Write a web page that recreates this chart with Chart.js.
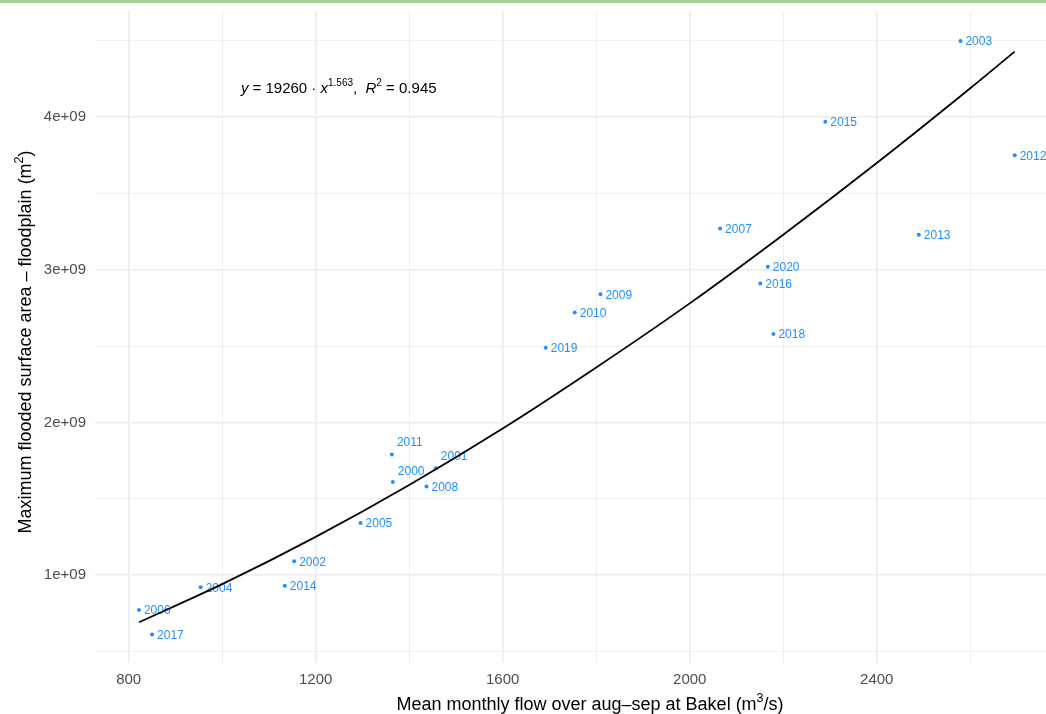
<!DOCTYPE html>
<html>
<head>
<meta charset="utf-8">
<script src="https://cdn.jsdelivr.net/npm/chart.js@4.4.1/dist/chart.umd.min.js"></script>
<style>
  html, body { margin: 0; padding: 0; background: #fff; }
  #wrap { position: relative; width: 1046px; height: 714px; }
  #topline { position: absolute; left: 0; top: 0; width: 1046px; height: 3px; background: #a3d196; }
  canvas { display: block; }
</style>
</head>
<body>
<div id="wrap">
  <div id="topline"></div>
  <canvas id="floodChart" width="1046" height="714"></canvas>
</div>
<script>
// observed years, flow at Bakel (m3/s) and max flooded floodplain area (m2)
const years = [2000, 2001, 2002, 2003, 2004, 2005, 2006, 2007, 2008, 2009, 2010,
               2011, 2012, 2013, 2014, 2015, 2016, 2017, 2018, 2019, 2020];
const flow = [1365, 1457, 1154, 2579, 954, 1296, 822, 2065, 1437, 1809, 1754,
              1363, 2695, 2490, 1134, 2290, 2151, 850, 2179, 1692, 2167];
const area = [1.61e9, 1.70e9, 1.09e9, 4.50e9, 0.92e9, 1.34e9, 0.77e9, 3.27e9, 1.58e9, 2.84e9, 2.72e9,
              1.79e9, 3.75e9, 3.23e9, 0.93e9, 3.97e9, 2.91e9, 0.61e9, 2.58e9, 2.49e9, 3.02e9];

// power-law fit line
const fitFlow = [822, 1000, 1200, 1400, 1600, 1800, 2000, 2200, 2400, 2600, 2695];
const fitArea = [0.69e9, 0.94e9, 1.25e9, 1.59e9, 1.96e9, 2.36e9, 2.78e9, 3.23e9, 3.70e9, 4.19e9, 4.43e9];

// axis ticks
const xTicks = [800, 1000, 1200, 1400, 1600, 1800, 2000, 2200, 2400, 2600];
const xLabelled = [800, 1200, 1600, 2000, 2400];
const yTicks = [0.5e9, 1e9, 1.5e9, 2e9, 2.5e9, 3e9, 3.5e9, 4e9, 4.5e9];
const yLabelled = [1e9, 2e9, 3e9, 4e9];

const fitText = { a: '19260', b: '1.563', r2: '0.945' };

const FONT = '"Liberation Sans", Arial, Helvetica, sans-serif';
const LABEL_BLUE = '#1e90ff';

// labels that were pushed away from their point (repel)
const labelNudge = { 2011: [5, -12], 2000: [5, -10], 2001: [5, -11] };

// draw a run of text pieces, some of them italic or raised
function drawRich(ctx, parts, x, y, size, supSize, rise) {
    parts.forEach(p => {
        ctx.font = (p.style || '') + ' ' + (p.sup ? supSize : size) + 'px ' + FONT;
        ctx.fillText(p.t, x, p.sup ? y - rise : y);
        x += ctx.measureText(p.t).width;
    });
    return x;
}

function richWidth(ctx, parts, size, supSize) {
    let w = 0;
    parts.forEach(p => {
        ctx.font = (p.style || '') + ' ' + (p.sup ? supSize : size) + 'px ' + FONT;
        w += ctx.measureText(p.t).width;
    });
    return w;
}

const pointLabels = {
    id: 'pointLabels',
    beforeDatasetsDraw(chart) {
        const ctx = chart.ctx;
        const meta = chart.getDatasetMeta(1);
        ctx.save();
        ctx.font = '12px ' + FONT;
        ctx.fillStyle = LABEL_BLUE;
        ctx.textBaseline = 'middle';
        meta.data.forEach((pt, i) => {
            const n = labelNudge[years[i]] || [5, 1];
            ctx.fillText(String(years[i]), pt.x + n[0], pt.y + n[1]);
        });
        ctx.restore();
    }
};

const textLayer = {
    id: 'textLayer',
    afterDraw(chart) {
        const ctx = chart.ctx;
        ctx.save();
        ctx.fillStyle = '#000';
        ctx.textBaseline = 'alphabetic';

        // fit equation
        const x0 = chart.scales.x.getPixelForValue(1040);
        const y0 = chart.scales.y.getPixelForValue(4.16e9);
        drawRich(ctx, [
            { t: 'y', style: 'italic' },
            { t: ' = ' + fitText.a + ' \u00b7 ' },
            { t: 'x', style: 'italic' },
            { t: fitText.b, sup: true },
            { t: ',  ' },
            { t: 'R', style: 'italic' },
            { t: '2', sup: true },
            { t: ' = ' + fitText.r2 }
        ], x0, y0, 15, 10, 7);

        // x axis title
        const xParts = [
            { t: 'Mean monthly flow over aug\u2013sep at Bakel (m' },
            { t: '3', sup: true },
            { t: '/s)' }
        ];
        const xw = richWidth(ctx, xParts, 18, 12.5);
        drawRich(ctx, xParts, 590 - xw / 2, 710, 18, 12.5, 8);

        // y axis title
        const yParts = [
            { t: 'Maximum flooded surface area \u2013 floodplain (m' },
            { t: '2', sup: true },
            { t: ')' }
        ];
        const yw = richWidth(ctx, yParts, 18, 12.5);
        ctx.translate(31, 342);
        ctx.rotate(-Math.PI / 2);
        drawRich(ctx, yParts, -yw / 2, 0, 18, 12.5, 8);
        ctx.restore();
    }
};

const ctx = document.getElementById('floodChart').getContext('2d');

new Chart(ctx, {
    type: 'scatter',
    data: {
        datasets: [
            {
                type: 'line',
                label: 'fit',
                data: fitFlow.map((v, i) => ({ x: v, y: fitArea[i] })),
                borderColor: '#000',
                borderWidth: 1.8,
                pointRadius: 0,
                fill: false,
                cubicInterpolationMode: 'monotone',
                order: 0
            },
            {
                label: 'years',
                data: flow.map((v, i) => ({ x: v, y: area[i] })),
                backgroundColor: LABEL_BLUE,
                borderWidth: 0,
                pointRadius: 2,
                order: 1
            }
        ]
    },
    options: {
        responsive: false,
        animation: false,
        layout: { autoPadding: false, padding: { top: 11, right: 0, left: 0, bottom: 0 } },
        plugins: {
            legend: { display: false },
            tooltip: { enabled: false }
        },
        scales: {
            x: {
                type: 'linear',
                min: 728,
                max: 2762,
                afterFit(scale) {
                    scale.height = 51;
                    scale.paddingLeft = 0;
                    scale.paddingRight = 0;
                },
                afterBuildTicks(scale) { scale.ticks = xTicks.map(v => ({ value: v })); },
                border: { display: false },
                grid: {
                    drawTicks: false,
                    color: '#ebebeb',
                    lineWidth: c => xLabelled.includes(c.tick.value) ? 1.6 : 0.8
                },
                ticks: {
                    padding: 8,
                    color: '#4d4d4d',
                    font: { family: FONT, size: 15 },
                    maxRotation: 0,
                    autoSkip: false,
                    callback: v => xLabelled.includes(v) ? String(v) : ''
                }
            },
            y: {
                type: 'linear',
                min: 0.4233e9,
                max: 4.696e9,
                afterFit(scale) {
                    scale.width = 95;
                    scale.paddingTop = 0;
                    scale.paddingBottom = 0;
                },
                afterBuildTicks(scale) { scale.ticks = yTicks.map(v => ({ value: v })); },
                border: { display: false },
                grid: {
                    drawTicks: false,
                    color: '#ebebeb',
                    lineWidth: c => yLabelled.includes(c.tick.value) ? 1.6 : 0.8
                },
                ticks: {
                    padding: 9,
                    color: '#4d4d4d',
                    font: { family: FONT, size: 15 },
                    autoSkip: false,
                    callback: v => yLabelled.includes(v) ? (v / 1e9) + 'e+09' : ''
                }
            }
        }
    },
    plugins: [pointLabels, textLayer]
});
</script>
</body>
</html>
